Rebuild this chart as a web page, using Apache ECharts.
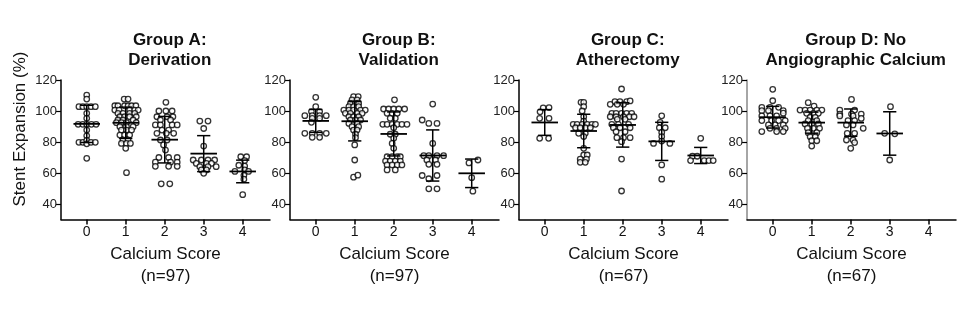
<!DOCTYPE html>
<html><head><meta charset="utf-8">
<script src="https://cdn.jsdelivr.net/npm/echarts@6/dist/echarts.min.js"></script>
<style>html,body{margin:0;padding:0;background:#fff}#c{width:959px;height:326px}</style>
</head><body><div id="c"></div>
<script>
const FONT = "'Liberation Sans', Arial, sans-serif";
const categories = [0, 1, 2, 3, 4];
const yTicks = [40, 60, 80, 100, 120];
const titles = ['Group A:\nDerivation', 'Group B:\nValidation', 'Group C:\nAtherectomy', 'Group D: No\nAngiographic Calcium'];
const xNames = ['Calcium Score\n(n=97)', 'Calcium Score\n(n=97)', 'Calcium Score\n(n=67)', 'Calcium Score\n(n=67)'];
const yName = 'Stent Expansion (%)';

// mean and SD per calcium score
const meanA = [91.7, 92.4, 81.5, 72.5, 61.0];
const sdA   = [12.0, 10.1, 15.0, 11.6, 7.3];
const meanB = [93.6, 93.4, 85.2, 71.3, 59.8];
const sdB   = [7.4, 12.7, 14.2, 16.5, 9.2];
const meanC = [92.6, 87.1, 91.0, 80.4, 71.3];
const sdC   = [8.3, 10.8, 14.3, 12.3, 5.2];
const meanD = [96.0, 92.5, 92.5, 85.5];
const sdD   = [7.0, 6.8, 8.8, 14.0];

// points: [category, horizontal jitter, stent expansion %]
const pointsA = [
  [0,0,110.3],[0,0,107.7],[0,-0.2,102.8],[0,-0.1,102.8],[0,0,102.8],[0,0.11,102.8],[0,0.22,102.8],[0,0,98.5],[0,0,95.3],
  [0,-0.22,91.4],[0,-0.1,91.4],[0,0,91.4],[0,0.12,91.4],[0,0.24,91.4],[0,0,87.7],[0,0,84],
  [0,-0.2,79.8],[0,-0.1,79.8],[0,0,81],[0,0,78.8],[0,0.11,79.8],[0,0.22,79.8],[0,0,69.5],
  [1,-0.04,107.7],[1,0.06,107.7],
  [1,-0.28,103.4],[1,-0.2,103.4],[1,-0.03,103.4],[1,0.06,103.4],[1,0.15,103.4],[1,0.26,103.4],
  [1,-0.28,100.6],[1,-0.17,100.6],[1,0.1,100.6],[1,0.23,100.6],[1,0.32,100.6],
  [1,-0.2,98.5],[1,-0.07,98.5],[1,0.1,98.5],[1,0.23,98.5],
  [1,-0.15,96.3],[1,-0.03,96.3],[1,0.1,96.3],[1,0.27,96.3],
  [1,-0.2,94.2],[1,-0.07,94.2],[1,0.19,94.2],
  [1,-0.24,92.5],[1,-0.11,92.5],[1,0.02,92.5],[1,0.27,92.5],
  [1,-0.15,89.9],[1,0.02,89.9],[1,0.19,89.9],
  [1,-0.11,87.7],[1,0.02,87.7],[1,0.15,87.7],
  [1,-0.15,84.5],[1,-0.03,84.5],[1,0.1,84.5],
  [1,-0.07,81.3],[1,0.06,81.3],
  [1,-0.11,79.1],[1,0.02,79.1],[1,0.12,79.1],
  [1,0,75.9],[1,0.02,60.2],
  [2,0.03,105.6],
  [2,-0.15,100],[2,0.03,100],[2,0.19,100],
  [2,-0.2,96.3],[2,0.06,96.3],[2,0.21,96.3],
  [2,-0.11,94.2],[2,0.15,94.2],
  [2,-0.24,91],[2,-0.11,91],[2,0.19,91],[2,0.32,91],
  [2,-0.07,87.7],[2,0.1,87.7],
  [2,-0.2,85.6],[2,0.04,85.6],[2,0.23,85.6],
  [2,-0.11,81.3],[2,0.06,81.3],
  [2,-0.03,78.1],[2,0.02,74.8],
  [2,-0.15,70],[2,0.1,70],[2,0.32,70],
  [2,-0.24,67],[2,0.15,67],[2,0.32,67],
  [2,-0.24,64.3],[2,0.1,64.3],[2,0.32,64.3],
  [2,-0.09,53],[2,0.13,53],
  [3,-0.1,93.5],[3,0.11,93.5],[3,0,88.7],[3,0,77.4],
  [3,-0.27,68.4],[3,-0.06,68.4],[3,0.11,68.4],[3,0.28,68.4],
  [3,-0.19,66.2],[3,0.07,66.2],[3,0.2,66.2],
  [3,-0.1,64.1],[3,0.11,64.1],[3,0.32,64.1],
  [3,-0.06,62],[3,0.07,62],[3,0,59.8],
  [4,-0.05,70.5],[4,0.1,70.5],[4,0.05,68],[4,-0.1,65],[4,0.05,64.5],[4,0.05,62],
  [4,-0.2,61],[4,0.15,61],[4,0.03,58.5],[4,0.03,56],[4,0,46]
];
const pointsB = [
  [0,0,108.8],[0,0,102.8],[0,-0.11,99.6],[0,0.1,99.6],
  [0,-0.28,97],[0,-0.09,97],[0,0.1,97],[0,0.27,97],
  [0,-0.09,95.3],[0,0.1,95.3],[0,-0.11,92.7],
  [0,-0.28,85.6],[0,-0.09,85.6],[0,0.1,85.6],[0,0.27,85.6],
  [0,-0.09,83],[0,0.1,83],
  [1,-0.03,109.3],[1,0.09,109.3],[1,-0.07,107.2],[1,0.06,107.2],
  [1,-0.11,105],[1,0.02,105],[1,0.1,105],
  [1,-0.15,102.8],[1,-0.03,102.8],[1,0.1,102.8],
  [1,-0.28,100.6],[1,-0.15,100.6],[1,-0.03,100.6],[1,0.15,100.6],[1,0.27,100.6],
  [1,-0.24,98.5],[1,-0.11,98.5],[1,0.06,98.5],[1,0.19,98.5],
  [1,-0.15,96.3],[1,-0.03,96.3],[1,0.1,96.3],
  [1,-0.11,94.2],[1,0.02,94.2],[1,0.15,94.2],
  [1,-0.15,92],[1,0.06,92],[1,-0.07,89.9],[1,0.1,89.9],
  [1,-0.03,87.7],[1,0.06,87.7],[1,0.02,85],[1,0.02,82.8],
  [1,0,78.1],[1,0,68.4],[1,-0.03,57.3],[1,0.08,58.6],
  [2,0.02,107.2],
  [2,-0.26,101.3],[2,-0.13,101.3],[2,0,101.3],[2,0.13,101.3],[2,0.28,101.3],
  [2,-0.17,98.5],[2,-0.04,98.5],[2,0.09,98.5],
  [2,-0.09,95.3],[2,0.04,95.3],
  [2,-0.28,91.4],[2,-0.17,91.4],[2,-0.04,91.4],[2,0.09,91.4],[2,0.21,91.4],[2,0.34,91.4],
  [2,0,89.2],[2,-0.09,85],[2,0.04,85],[2,0,82.4],[2,-0.04,79.1],[2,0,75.9],
  [2,-0.17,70.5],[2,-0.04,70.5],[2,0.09,70.5],[2,0.17,70.5],
  [2,-0.21,67.7],[2,-0.09,67.7],[2,0.04,67.7],[2,0.17,67.7],
  [2,-0.17,65.2],[2,-0.04,65.2],[2,0.09,65.2],[2,0.21,65.2],
  [2,-0.17,62],[2,0.04,62],
  [3,0,104.5],[3,-0.27,94.2],[3,-0.1,92],[3,0.11,92],[3,0,79.1],
  [3,-0.23,71.2],[3,-0.1,71.2],[3,0.11,71.2],[3,0.28,71.2],
  [3,-0.15,68.4],[3,0.07,68.4],[3,-0.1,65.6],[3,0.11,65.6],
  [3,-0.27,58.4],[3,0.11,58.4],[3,-0.1,56.3],[3,-0.1,49.8],[3,0.11,49.8],
  [4,-0.07,66.5],[4,0.16,68.4],[4,0,57],[4,0.03,48.3]
];
const pointsC = [
  [0,-0.04,102],[0,0.11,102.2],[0,-0.12,99.5],[0,-0.13,95.3],[0,0.11,95.3],[0,-0.13,82.4],[0,0.1,82.4],
  [1,-0.07,105.6],[1,0,105.6],[1,0,102.8],[1,-0.04,100],[1,0,96.3],[1,0,93.5],
  [1,-0.27,91.4],[1,-0.17,91.4],[1,-0.04,91.4],[1,0.09,91.4],[1,0.21,91.4],[1,0.3,91.4],
  [1,-0.21,89.2],[1,-0.09,89.2],[1,0.04,89.2],[1,0.17,89.2],
  [1,-0.13,85.6],[1,0.04,85.6],[1,0,83.5],[1,0,75.9],
  [1,0,71.6],[1,0.09,71.6],[1,-0.09,69],[1,0.07,69],[1,-0.09,66.9],[1,0.04,66.9],
  [2,-0.03,114.2],
  [2,-0.2,106],[2,-0.07,106],[2,0.1,106],[2,0.19,106.5],
  [2,-0.32,104.3],[2,-0.14,104.3],[2,0.02,104.3],
  [2,-0.28,98.5],[2,-0.17,98.5],[2,-0.03,98.5],[2,0.1,98.5],[2,0.23,98.5],
  [2,-0.32,96.3],[2,-0.17,96.3],[2,0.02,96.3],[2,0.17,96.3],[2,0.29,96.3],
  [2,-0.14,94.6],[2,0.06,94.6],
  [2,-0.28,91.4],[2,-0.11,91.4],[2,0.15,91.4],
  [2,-0.24,89.2],[2,-0.07,89.2],[2,0.19,89.2],
  [2,-0.17,86.6],[2,0.06,86.6],
  [2,-0.15,82.8],[2,0.02,82.8],[2,0.19,82.8],
  [2,-0.03,80.2],[2,-0.03,69],[2,-0.03,48.4],
  [3,0,96.9],[3,-0.04,92.7],[3,-0.06,89.2],[3,0.09,89.2],[3,0,86.2],[3,0,83.5],[3,0,80.6],
  [3,-0.21,79.1],[3,0.21,79.1],[3,0,65.2],[3,0,56],
  [4,0,82.4],[4,-0.21,70.8],[4,-0.09,70.8],[4,-0.26,68],[4,0.09,68],[4,0.21,68],[4,0.32,68]
];
const pointsD = [
  [0,0,114],[0,0,106.6],
  [0,-0.28,102.4],[0,-0.07,102.4],[0,0.15,102.4],
  [0,-0.28,100.2],[0,-0.11,100.2],[0,0.27,100.2],[0,0.27,98.6],
  [0,-0.28,96.8],[0,-0.07,96.8],[0,0.1,96.8],
  [0,-0.28,93.8],[0,-0.03,93.8],[0,0.15,93.8],[0,0.32,93.8],
  [0,-0.11,91],[0,0.06,91],[0,0.27,91],
  [0,-0.07,88.8],[0,0.1,88.8],[0,0.32,88.8],
  [0,-0.28,86.7],[0,0.1,86.7],[0,0.27,86.7],
  [1,-0.09,105.4],[1,0.06,103.2],
  [1,-0.3,100.6],[1,-0.17,100.6],[1,-0.04,100.6],[1,0.13,100.6],[1,0.26,100.6],
  [1,-0.13,98.5],[1,0.04,98.5],[1,0.17,98.5],
  [1,-0.04,95.9],[1,0.09,95.9],[1,-0.09,93.8],[1,0.13,93.8],
  [1,-0.17,91.6],[1,0,91.6],[1,0.17,91.6],
  [1,-0.11,88.8],[1,0.04,88.8],[1,0.2,88.8],
  [1,-0.09,86],[1,0.13,86],[1,-0.04,83.4],[1,0.09,83.4],
  [1,0,80.8],[1,0.13,80.8],[1,0,77.4],
  [2,0.02,107.5],[2,-0.28,100.6],[2,0.1,100.6],
  [2,-0.28,98],[2,0.02,98],[2,0.27,98],
  [2,-0.28,96.8],[2,0.06,96.8],[2,0.27,95.2],
  [2,-0.07,93.8],[2,0.1,93.8],[2,-0.11,91],[2,0.06,91],[2,0.32,88.8],
  [2,-0.09,85.6],[2,0.1,85.6],[2,-0.11,81.3],[2,0.06,81.3],[2,0.1,79.6],[2,0,75.9],
  [3,0.02,102.8],[3,-0.13,85.6],[3,0.13,85.3],[3,0,68.4]
];

const groups = [
  {pts: pointsA, mean: meanA, sd: sdA},
  {pts: pointsB, mean: meanB, sd: sdB},
  {pts: pointsC, mean: meanC, sd: sdC},
  {pts: pointsD, mean: meanD, sd: sdD}
];

const gridLefts = [61, 290, 519, 747];
const gridW = 209, gridTop = 80, gridH = 139.5;
const X_MIN = -0.66, X_MAX = 4.7;

const chart = echarts.init(document.getElementById('c'), null, {renderer: 'canvas'});
const option = {
  backgroundColor: '#fff',
  animation: false,
  title: [], grid: [], xAxis: [], yAxis: [], series: [],
  graphic: [{
    type: 'text', x: 20, y: 129, rotation: Math.PI / 2,
    style: {text: yName, fontSize: 17, fontFamily: FONT, fill: '#111', align: 'center', verticalAlign: 'middle'}
  }]
};

groups.forEach((g, i) => {
  const left = gridLefts[i];
  const xAt2 = left + (2 - X_MIN) / (X_MAX - X_MIN) * gridW;
  option.title.push({
    text: titles[i], left: xAt2, top: 25, textAlign: 'center',
    textStyle: {fontSize: 17, fontWeight: 'bold', fontFamily: FONT, color: '#111', lineHeight: 20}
  });
  option.grid.push({left: left, top: gridTop, width: gridW, height: gridH});
  option.xAxis.push({
    type: 'value', gridIndex: i, min: X_MIN, max: X_MAX,
    axisLine: {show: true, onZero: false, lineStyle: {color: '#000', width: 1.5}},
    axisTick: {show: true, customValues: categories, length: 5, lineStyle: {color: '#000', width: 1.5}},
    axisLabel: {customValues: categories, fontSize: 14, fontFamily: FONT, color: '#111', margin: 6},
    splitLine: {show: false},
    name: xNames[i], nameLocation: 'middle', nameGap: 24,
    nameTextStyle: {fontSize: 17, fontFamily: FONT, color: '#111', lineHeight: 22}
  });
  const yColor = i === 3 ? '#888' : '#000';
  option.yAxis.push({
    type: 'value', gridIndex: i, min: 30, max: 120,
    axisLine: {show: true, onZero: false, lineStyle: {color: yColor, width: 1.5}},
    axisTick: {show: true, customValues: yTicks, length: 5, lineStyle: {color: '#000', width: 1.2}},
    axisLabel: {customValues: yTicks, fontSize: 13, fontFamily: FONT, color: '#222', margin: 4},
    splitLine: {show: false}
  });
  option.series.push({
    type: 'scatter', xAxisIndex: i, yAxisIndex: i, z: 2,
    symbol: 'circle', symbolSize: 5.5,
    itemStyle: {color: '#fff', borderColor: '#000', borderWidth: 1.3},
    data: g.pts.map(p => [p[0] + p[1], p[2]])
  });
  option.series.push({
    type: 'custom', xAxisIndex: i, yAxisIndex: i, z: 3,
    data: g.mean.map((m, k) => [categories[k], m, g.sd[k]]),
    renderItem: function (params, api) {
      const c = api.value(0), m = api.value(1), s = api.value(2);
      const pm = api.coord([c, m]);
      const pt = api.coord([c, m + s]);
      const pb = api.coord([c, m - s]);
      const unit = api.size([1, 0])[0];
      const hm = unit * 0.34, hc = unit * 0.17;
      const st = {stroke: '#000', lineWidth: 1.5};
      return {
        type: 'group', children: [
          {type: 'line', shape: {x1: pt[0], y1: pt[1], x2: pb[0], y2: pb[1]}, style: st},
          {type: 'line', shape: {x1: pm[0] - hm, y1: pm[1], x2: pm[0] + hm, y2: pm[1]}, style: {stroke: '#000', lineWidth: 1.8}},
          {type: 'line', shape: {x1: pt[0] - hc, y1: pt[1], x2: pt[0] + hc, y2: pt[1]}, style: st},
          {type: 'line', shape: {x1: pb[0] - hc, y1: pb[1], x2: pb[0] + hc, y2: pb[1]}, style: st}
        ]
      };
    }
  });
});

chart.setOption(option);
</script>
</body></html>
